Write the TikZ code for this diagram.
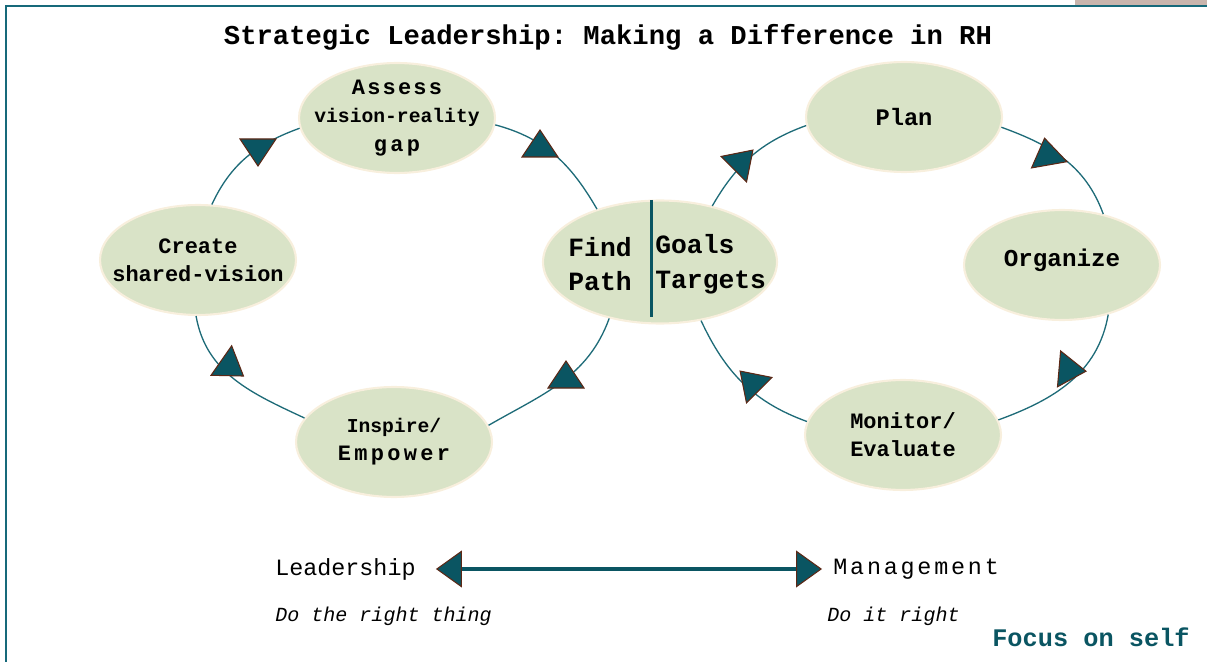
\documentclass[tikz,border=0pt]{standalone}
\usepackage{fontspec}
\setmonofont{Liberation Mono}
\usetikzlibrary{shapes.geometric,arrows.meta}

\definecolor{sage}{HTML}{D9E3C7}
\definecolor{cream}{HTML}{F8EFDD}
\definecolor{frameteal}{HTML}{16697A}
\definecolor{arcteal}{HTML}{1E6B78}
\definecolor{darkteal}{HTML}{0A5562}
\definecolor{rust}{HTML}{5C2816}
\definecolor{greybar}{HTML}{C9B5AD}

\tikzset{
  pointerbody/.style={fill=darkteal, draw=rust, line width=0.6pt, line join=miter},
  pointer/.pic={\filldraw[pointerbody] (14,0) -- (-13,18) -- (-13,-18) -- cycle;}
}

\begin{document}
\begin{tikzpicture}[x=0.02cm, y=-0.02cm,
  stage/.style={ellipse, fill=sage, draw=cream, line width=1.2pt,
    minimum width=3.92cm, minimum height=2.2cm, inner sep=0pt},
  lbl/.style={font=\ttfamily\bfseries\fontsize{12.5}{16}\selectfont, align=center, inner sep=0pt},
  biglbl/.style={font=\ttfamily\bfseries\fontsize{15}{19.8}\selectfont, inner sep=0pt},
  cycleline/.style={draw=arcteal, line width=0.75pt},
  plain/.style={font=\ttfamily\fontsize{13.3}{16}\selectfont, inner sep=0pt},
  motto/.style={font=\ttfamily\itshape\fontsize{11.4}{14}\selectfont, inner sep=0pt, anchor=west}]

\useasboundingbox (0,0) rectangle (1207,662);
% frame
\fill[greybar] (1075,0) rectangle (1207,5);
\draw[frameteal, line width=1.1pt] (6,662) -- (6,6) -- (1207,6);

\node[font=\ttfamily\bfseries\fontsize{15.5}{18}\selectfont] (title) at (608,37)
  {Strategic Leadership: Making a Difference in RH};

% leadership cycle
\node[stage, label={[lbl]center:{\addfontfeatures{LetterSpace=10}Assess\\{\fontsize{11.2}{16.5}\selectfont vision-reality}\\\addfontfeatures{LetterSpace=15}gap}}] (as) at (397,118) {};
\node[stage, label={[lbl]center:{Create\\shared-vision}}] (cv) at (198,260) {};
\node[stage, label={[lbl]center:{{\fontsize{11.2}{16}\selectfont Inspire/}\\\addfontfeatures{LetterSpace=15}Empower}}] (ie) at (394,442) {};

% hub
\node[stage, minimum width=4.68cm, minimum height=2.46cm] (fp) at (660,262) {};
\draw[darkteal, line width=1.7pt] (651,200) -- (651,317);
\node[biglbl, align=center] (find) at (600,264) {Find\\Path};
\node[biglbl, align=left, anchor=west] (goals) at (655,264) {Goals\\Targets};

% management cycle
\node[stage, label={[lbl, font=\ttfamily\bfseries\fontsize{13.5}{16}\selectfont]center:Plan}] (pl) at (904,117) {};
\node[stage, label={[lbl, font=\ttfamily\bfseries\fontsize{13.8}{16}\selectfont, yshift=0.1cm]center:Organize}] (og) at (1062,265) {};
\node[stage, label={[lbl]center:{Monitor/\\Evaluate}}] (me) at (903,435) {};

\draw[cycleline] (as.-4) to[out=-15, in=120] (fp.140);
\draw[cycleline] (as.186) to[out=200, in=65] (cv.76);
\draw[cycleline] (cv.268) to[out=-80, in=155] (ie.165);
\draw[cycleline] (ie.10) to[out=30, in=250] (fp.228);

\draw[cycleline] (fp.47) to[out=60, in=200] (pl.185);
\draw[cycleline] (pl.-6) to[out=-20, in=110] (og.51);
\draw[cycleline] (og.-47) to[out=260, in=20] (me.9);
\draw[cycleline] (me.172) to[out=160, in=-65] (fp.-55);

\pic[rotate=90] at (540,144) {pointer};
\pic[rotate=-90] at (258,152) {pointer};
\pic[rotate=-35] at (232,368) {pointer};
\pic[rotate=90] at (566,375) {pointer};
\pic[rotate=45] at (743,160) {pointer};
\pic[rotate=100] at (1047,152) {pointer};
\pic[rotate=-5] at (1072,370) {pointer};
\pic[rotate=135] at (750,381) {pointer};

% leadership vs management
\node[plain, anchor=west] (lead) at (275,569) {Leadership};
\node[plain, anchor=west] (mgmt) at (833,569) {\addfontfeatures{LetterSpace=12}Management};
\draw[darkteal, line width=2.2pt, shorten <=0.4cm, shorten >=0.22cm,
  {Triangle[length=0.52cm, width=0.74cm, color=rust, fill=darkteal, line width=0.6pt]}-{Triangle[length=0.52cm, width=0.74cm, color=rust, fill=darkteal, line width=0.6pt]}]
  (lead.east) -- (lead.east -| mgmt.west);

\node[motto] (rightthing) at (275,616) {Do the right thing};
\node[motto] (itright) at (827,616) {Do it right};

\node[font=\ttfamily\bfseries\fontsize{14.4}{17}\selectfont, text=darkteal, anchor=east, inner sep=0pt] (focus) at (1190,637) {Focus on self};
\end{tikzpicture}
\end{document}
